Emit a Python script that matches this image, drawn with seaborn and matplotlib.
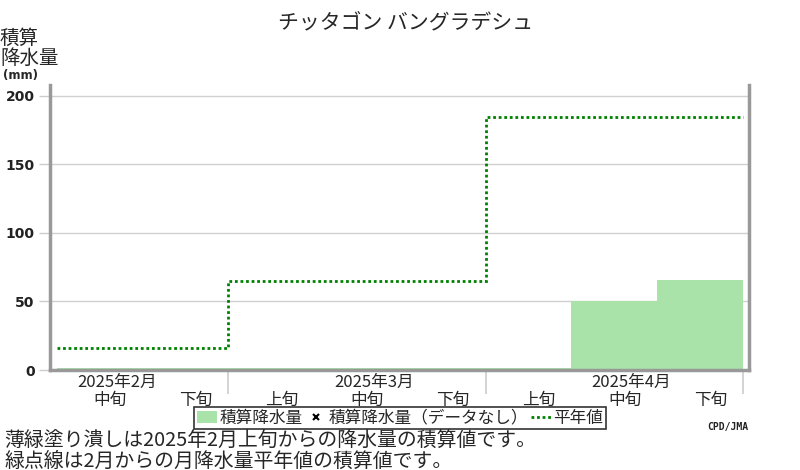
import matplotlib
matplotlib.use("Agg")
import matplotlib.pyplot as plt
from matplotlib.lines import Line2D
from matplotlib.patches import Patch
import numpy as np
import pandas as pd
import seaborn as sns

# dekads shown on the x axis
dekads = ["2月中旬", "2月下旬", "3月上旬", "3月中旬", "3月下旬", "4月上旬", "4月中旬", "4月下旬"]
dekad_labels = ["中旬", "下旬", "上旬", "中旬", "下旬", "上旬", "中旬", "下旬"]
months = ["2025年2月", "2025年3月", "2025年4月"]
# accumulated precipitation (mm) since 2025 Feb 上旬
precip = [1.5, 1.5, 1.5, 1.5, 1.5, 1.5, 50, 66]
# accumulated monthly normal (mm), per dekad
normal = [16, 16, 65, 65, 65, 185, 185, 185]

sns.set_theme(style="white")
plt.rcParams["font.family"] = ["Noto Sans CJK JP", "DejaVu Sans"]

df = pd.DataFrame({"dekad": dekads, "precip": precip})

fig = plt.figure(figsize=(8, 4.7), dpi=100)
ax = fig.add_axes([50 / 800, 1 - 370 / 470, 699 / 800, 285 / 470])

sns.barplot(data=df, x="dekad", y="precip", order=dekads, color="#aae3aa",
            width=1.0, saturation=1, edgecolor="none", ax=ax)
ax.stairs(normal, np.arange(len(normal) + 1) - 0.5, baseline=None,
          color="#008000", linestyle=(0, (1, 1)), linewidth=2)

ax.set_xlim(-0.58, 7.57)
ax.set_ylim(0, 208)
ax.set_yticks([0, 50, 100, 150, 200])
ax.set_yticklabels(["0", "50", "100", "150", "200"], fontsize=10,
                   fontweight="bold", family="DejaVu Sans", color="#222222")
ax.tick_params(axis="y", which="major", left=True, length=8, width=1,
               color="#cccccc", pad=3)
ax.yaxis.grid(True, color="#d0d0d0", linewidth=1)
ax.set_axisbelow(True)

# month boundaries as long grey ticks
idx = np.arange(len(dekads))
month_of = [d.split("月")[0] for d in dekads]
bounds = [i + 0.5 for i in idx[:-1] if month_of[i] != month_of[i + 1]] + [idx[-1] + 0.5]
ax.set_xticks(bounds)
ax.set_xticklabels([""] * len(bounds))
ax.tick_params(axis="x", which="major", bottom=True, length=17, width=1.2,
               color="#cccccc")
ax.set_xticks(idx + 0.12, minor=True)
ax.set_xticklabels(dekad_labels, minor=True, fontsize=12)
ax.tick_params(axis="x", which="minor", bottom=True, length=0, pad=16)

mid_pos = []
for m in dict.fromkeys(month_of):
    pos = [i for i in idx if month_of[i] == m]
    mid_pos.append(pos[len(pos) // 2] + 0.2 if len(pos) > 2 else pos[0] + 0.2)
sec = ax.secondary_xaxis("bottom")
sec.set_xticks(mid_pos)
sec.set_xticklabels(months, fontsize=12)
sec.tick_params(length=0, pad=3)
sec.spines["bottom"].set_visible(False)

ax.set_xlabel("")
ax.set_ylabel("")
for s in ["left", "bottom", "right"]:
    ax.spines[s].set_visible(True)
    ax.spines[s].set_color("#999999")
    ax.spines[s].set_linewidth(2.5)
ax.spines["top"].set_visible(False)

fig.text(0.507, 1 - 22 / 470, "チッタゴン バングラデシュ", ha="center", va="center",
         fontsize=15)
fig.text(0.0, 1 - 48 / 470, "積算\n降水量", ha="left", va="center", fontsize=14,
         linespacing=0.95)
fig.text(0.004, 1 - 76 / 470, "(mm)", ha="left", va="center", fontsize=8.5,
         fontweight="bold", family="DejaVu Sans")

handles = [Patch(facecolor="#aae3aa", edgecolor="none"),
           Line2D([], [], color="black", marker="x", linestyle="none",
                  markersize=4, markeredgewidth=1.5),
           Line2D([], [], color="#008000", linestyle=(0, (1, 1)), linewidth=2)]
leg = fig.legend(handles, ["積算降水量", "積算降水量（データなし）", "平年値"],
                 loc="upper center", bbox_to_anchor=(0.5, 1 - 407 / 470), ncol=3,
                 fontsize=12, frameon=True, fancybox=False, handlelength=1.2,
                 handletextpad=0.15, columnspacing=0.2, borderpad=0.15,
                 borderaxespad=0)
leg.get_frame().set_edgecolor("black")
leg.get_frame().set_linewidth(1.2)

fig.text(0.005, 1 - 441 / 470, "薄緑塗り潰しは2025年2月上旬からの降水量の積算値です。",
         ha="left", va="center", fontsize=14.3)
fig.text(0.005, 1 - 461 / 470, "緑点線は2月からの月降水量平年値の積算値です。",
         ha="left", va="center", fontsize=14.3)
fig.text(748 / 800, 1 - 427 / 470, "CPD/JMA", ha="right", va="center",
         fontsize=7, fontweight="bold", family="DejaVu Sans Mono", color="#222222")

fig.savefig("out.png", dpi=100)
